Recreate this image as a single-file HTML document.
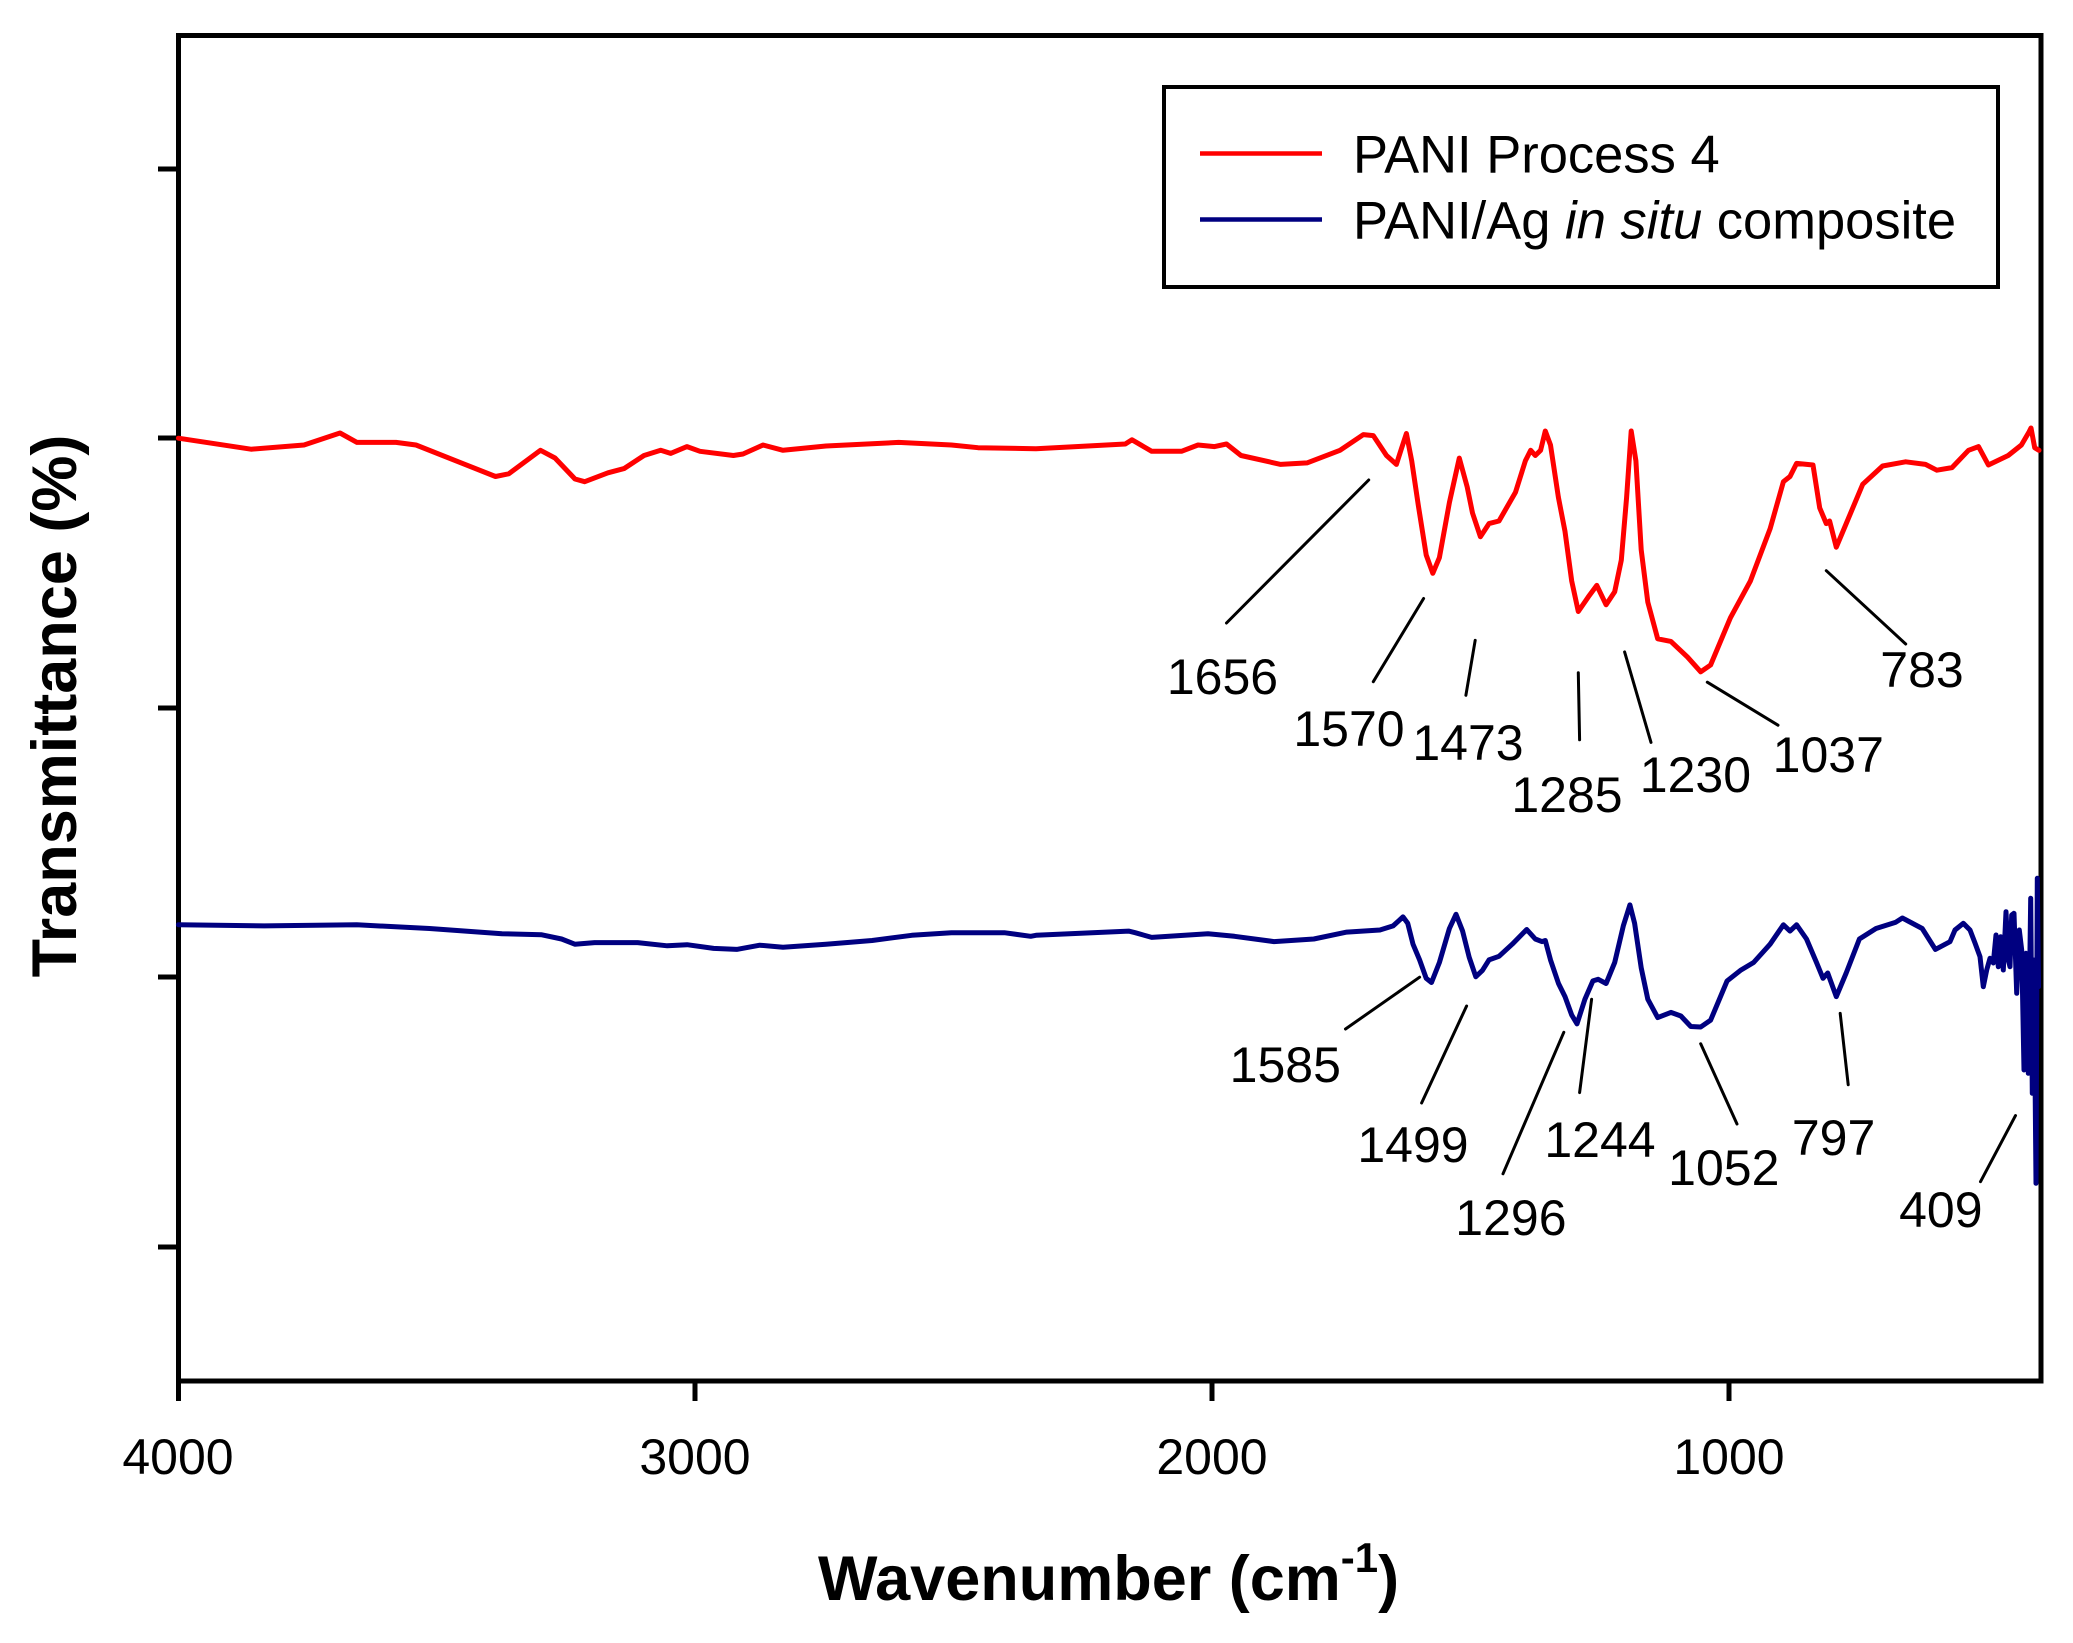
<!DOCTYPE html>
<html><head><meta charset="utf-8"><style>
html,body{margin:0;padding:0;background:#fff;}
svg{display:block;}
text{font-family:"Liberation Sans",Arial,sans-serif;fill:#000;}
</style></head><body>
<svg width="2073" height="1643" viewBox="0 0 2073 1643" xmlns="http://www.w3.org/2000/svg">
<rect x="0" y="0" width="2073" height="1643" fill="#fff"/>
<!-- frame -->
<rect x="178.5" y="35.5" width="1862.5" height="1345.5" fill="none" stroke="#000" stroke-width="5"/>
<!-- ticks -->
<g stroke="#000" stroke-width="5">
<line x1="158" y1="169" x2="178" y2="169"/>
<line x1="158" y1="438" x2="178" y2="438"/>
<line x1="158" y1="708" x2="178" y2="708"/>
<line x1="158" y1="977" x2="178" y2="977"/>
<line x1="158" y1="1247" x2="178" y2="1247"/>
<line x1="178.5" y1="1381" x2="178.5" y2="1401"/>
<line x1="695" y1="1381" x2="695" y2="1401"/>
<line x1="1212" y1="1381" x2="1212" y2="1401"/>
<line x1="1729" y1="1381" x2="1729" y2="1401"/>
</g>
<g font-size="50" text-anchor="middle">
<text x="178" y="1474">4000</text>
<text x="695" y="1474">3000</text>
<text x="1212" y="1474">2000</text>
<text x="1729" y="1474">1000</text>
</g>
<!-- axis titles -->
<text x="818" y="1600" font-size="63" font-weight="bold">Wavenumber (cm<tspan font-size="42" dy="-28">-1</tspan><tspan dy="28">)</tspan></text>
<text transform="translate(76,706) rotate(-90)" x="0" y="0" font-size="63" font-weight="bold" text-anchor="middle">Transmittance (%)</text>

<!-- red series -->
<polyline fill="none" stroke="#ff0000" stroke-width="5" stroke-linejoin="round" stroke-linecap="round" points="
178.4,438.2 251,449.2 304,445 340,433 357,442.4 396,442.4 416,445 462.5,463.4 495.5,476.5 508.8,473.8 540.5,450.3 555,458 575,479 584.7,481.7 608,472.8 624,468.6 644,455.5 660.7,450.3 670.6,453.4 687,446.6 700,451.3 733.4,455.5 743,454 763,445 783,450.3 826,446 898.6,442.4 951.4,445 978,447.7 1036,448.7 1125.3,444 1132,439.8 1151.7,451.3 1181.5,451.3 1198,445 1214.6,446.6 1226.5,444 1241,455.5 1280.7,464.4 1307,462.9 1340,450.3 1363.4,434.6 1373.3,435.6 1386.5,455.5 1396.4,464.4 1401,450 1406.4,433.5 1411.7,460.8 1418.3,505.3 1426.2,555 1432.8,573.3 1439.4,557.6 1449.4,502.6 1459.3,458.1 1467.2,487 1472.5,513 1480.4,536.7 1489,523.6 1499,521 1515.5,492.2 1525.4,460.8 1530.7,450.3 1535.3,455.5 1540.6,450.3 1545.3,431 1550.5,445 1558.4,497.4 1565,531.4 1571.7,581 1578.3,611.5 1588.3,596.9 1596.8,585.4 1606.1,604.8 1614.7,591.7 1621.3,560.2 1626.6,497.4 1631.2,431 1635.9,460.8 1641.2,549.8 1647.8,602.1 1657.7,638.8 1670.9,641.4 1687.5,657.1 1700.7,671.8 1710.6,665 1730.4,617.8 1750.3,581.2 1770.1,528.8 1783.4,481.7 1790,476.5 1796.6,463.4 1813,465 1819.7,507.9 1826.3,523.6 1829.6,521 1836.3,547.2 1846.2,523.6 1862.7,484.3 1882.6,466 1905.7,461.8 1925.5,464.4 1936.8,470.2 1952,467.6 1968.5,450.3 1978.5,446.6 1988.4,465 2008.2,455.5 2021.4,445 2029,432 2031,428 2034.7,447.7 2039,450.3"/>

<!-- blue series -->
<polyline fill="none" stroke="#000080" stroke-width="5" stroke-linejoin="round" stroke-linecap="round" points="
178.4,924.8 264.3,925.9 356.8,924.8 429.5,928.5 502,933.7 541.8,934.8 561.6,939 574.8,944.2 594.6,942.6 637.6,942.6 667.3,945.8 687.1,944.7 713.6,948.4 736.7,949.4 759.8,945.2 783,947.3 826,944.2 872.1,940.5 911.8,935.3 951.4,932.7 1004.3,932.7 1030.7,936.3 1036,935.3 1128.6,931.1 1135.2,932.7 1151.7,937.4 1208,933.7 1234.4,936.3 1274,941.6 1313.8,939 1346.8,932.1 1379.9,930 1393.1,925.9 1403,916.9 1407.7,923.2 1413,944.2 1419.6,959.9 1426.2,978.3 1431.5,982.5 1439.4,962.5 1449.4,928.5 1456,914.3 1462.6,931.1 1469.2,957.3 1475.8,976.7 1482.4,970.4 1489,959.9 1499,956.3 1512.2,944.2 1526.7,929.5 1535.3,939 1541.9,941.6 1545.3,940.5 1550.5,959.9 1558.5,983.5 1565,996.6 1571.7,1015 1577,1023.9 1584.9,999.2 1592.9,980.9 1598.2,979.3 1606.1,983.5 1614.7,962.5 1623.3,925.9 1629.9,904.9 1634.6,923.2 1641.2,967.8 1647.8,999.2 1657.7,1017.6 1670.9,1012.4 1680.9,1016 1690.8,1026.5 1700.7,1027 1710.6,1020.2 1727.1,980.9 1740.4,970.4 1753.6,962.5 1770.1,944.2 1783.4,924.8 1790,931.1 1796.6,924.8 1806.5,939 1816.5,962.5 1823,978.3 1827.7,973 1836.3,996.6 1846.2,973 1859.4,939 1876,928.5 1895.8,922.2 1902.4,918 1922.2,928.5 1935.4,949.4 1950,941.7 1955,930 1963.3,923.3 1970,930 1975,943 1980,956.7 1983.3,986.7 1986.7,970 1990,958.3 1993.3,963 1996,935 1998.3,966.7 2000.7,936.7 2003.3,970 2006,911.7 2008.3,960 2010,966.7 2011.7,915 2014,913.3 2016.7,993.3 2019.3,930 2021.7,950 2024,1070 2026,953.3 2028.3,1073.3 2030.7,898.3 2032.3,1093.3 2034,960 2036,1183.3 2037.3,878.3 2038.5,986.7"/>

<!-- annotation lines -->
<g stroke="#000" stroke-width="3" stroke-linecap="round">
<line x1="1226.5" y1="623" x2="1368.7" y2="480"/>
<line x1="1373.3" y1="681.7" x2="1423.6" y2="598.5"/>
<line x1="1465.9" y1="695.3" x2="1475.2" y2="640.3"/>
<line x1="1579.6" y1="739.8" x2="1578.3" y2="672.8"/>
<line x1="1651" y1="742.4" x2="1624.6" y2="651.9"/>
<line x1="1778" y1="725.2" x2="1707.3" y2="682.2"/>
<line x1="1905.7" y1="644" x2="1826.3" y2="570.7"/>
<line x1="1345.5" y1="1029" x2="1419.6" y2="977.2"/>
<line x1="1421.6" y1="1103" x2="1466.6" y2="1006"/>
<line x1="1503" y1="1173.8" x2="1563.8" y2="1032.3"/>
<line x1="1579.6" y1="1092.6" x2="1591.6" y2="999.2"/>
<line x1="1737" y1="1124" x2="1700.7" y2="1043.8"/>
<line x1="1848.2" y1="1084.7" x2="1840.2" y2="1013.4"/>
<line x1="1980.5" y1="1181.7" x2="2015.5" y2="1115.6"/>
</g>
<g font-size="50" text-anchor="middle">
<text x="1222.5" y="694">1656</text>
<text x="1349" y="746">1570</text>
<text x="1468" y="760">1473</text>
<text x="1567" y="812">1285</text>
<text x="1695.4" y="792">1230</text>
<text x="1828.3" y="772">1037</text>
<text x="1922" y="687">783</text>
<text x="1285.3" y="1082">1585</text>
<text x="1413" y="1162">1499</text>
<text x="1510.9" y="1235">1296</text>
<text x="1600" y="1157">1244</text>
<text x="1723.8" y="1185">1052</text>
<text x="1833.6" y="1155">797</text>
<text x="1940.8" y="1227">409</text>
</g>

<!-- legend -->
<rect x="1164" y="87" width="834" height="200" fill="#fff" stroke="#000" stroke-width="4"/>
<line x1="1200" y1="153.5" x2="1322" y2="153.5" stroke="#ff0000" stroke-width="4.5"/>
<line x1="1200" y1="219.5" x2="1322" y2="219.5" stroke="#000080" stroke-width="4.5"/>
<text x="1353" y="172.5" font-size="52.5">PANI Process 4</text>
<text x="1353" y="238.5" font-size="52.5">PANI/Ag <tspan font-style="italic">in situ</tspan> composite</text>
</svg>
</body></html>
